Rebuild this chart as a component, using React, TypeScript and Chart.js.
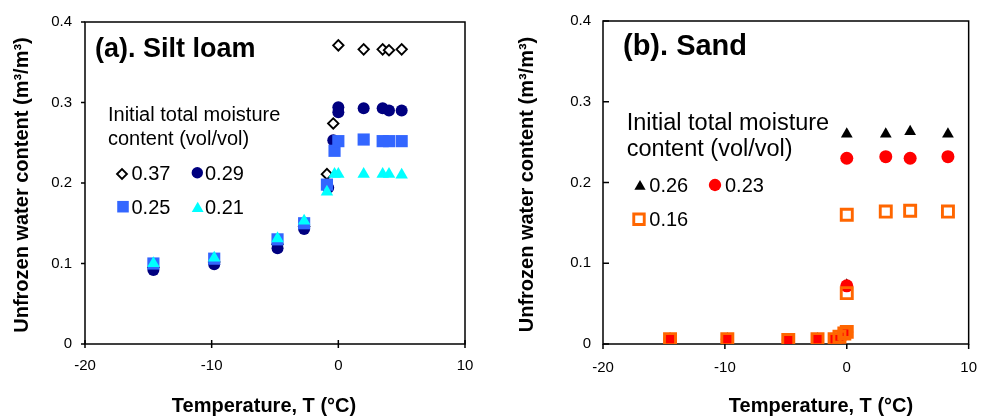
import React, { useEffect, useRef } from "react";
import { Chart, registerables } from "chart.js";
import { drawPoint } from "chart.js/helpers";

Chart.register(...registerables);

const FONT = "'Liberation Sans', Arial, Helvetica, sans-serif";

// ---------- axis ranges ----------
const xMin = -20;
const xMax = 10;
const xStep = 10;
const yMin = 0;
const yMax = 0.4;
const yStep = 0.1;

// ---------- (a) Silt loam ----------
const siltLabels = ["0.37", "0.29", "0.25", "0.21"];
const siltT037 = [-14.6, -9.8, -4.8, -2.7, -0.9, -0.4, 0, 2.0, 3.5, 4.0, 5.0];
const siltW037 = [0.095, 0.102, 0.124, 0.146, 0.211, 0.274, 0.371, 0.366, 0.366, 0.365, 0.366];
const siltT029 = [-14.6, -9.8, -4.8, -2.7, -0.8, -0.4, 0, 0, 2.0, 3.5, 4.0, 5.0];
const siltW029 = [0.092, 0.099, 0.119, 0.143, 0.194, 0.253, 0.294, 0.288, 0.293, 0.293, 0.29, 0.29];
const siltT025 = [-14.6, -9.8, -4.8, -2.7, -0.9, -0.3, 0, 2.0, 3.5, 4.0, 5.0];
const siltW025 = [0.1, 0.106, 0.13, 0.15, 0.198, 0.24, 0.252, 0.254, 0.252, 0.252, 0.252];
const siltT021 = [-14.6, -9.8, -4.8, -2.7, -0.9, -0.3, 0, 2.0, 3.5, 4.0, 5.0];
const siltW021 = [0.1, 0.107, 0.131, 0.153, 0.189, 0.211, 0.211, 0.211, 0.211, 0.211, 0.21];

// ---------- (b) Sand ----------
const sandLabels = ["0.26", "0.23", "0.16"];
const sandT026 = [-14.5, -9.8, -4.8, -2.4, -1.0, -0.2, 0, 0, 3.2, 5.2, 8.3];
const sandW026 = [0.006, 0.006, 0.005, 0.006, 0.006, 0.012, 0.073, 0.26, 0.26, 0.263, 0.26];
const sandT023 = [-14.5, -9.8, -4.8, -2.4, -1.0, -0.5, 0, 0, 0, 3.2, 5.2, 8.3];
const sandW023 = [0.006, 0.006, 0.005, 0.006, 0.006, 0.008, 0.015, 0.072, 0.23, 0.232, 0.23, 0.232];
const sandT016 = [-14.5, -9.8, -4.8, -2.4, -1.0, -0.6, -0.2, 0, 0, 0, 3.2, 5.2, 8.3];
const sandW016 = [0.006, 0.006, 0.005, 0.006, 0.006, 0.009, 0.013, 0.015, 0.063, 0.16, 0.164, 0.165, 0.164];

const xTitle = "Temperature, T (°C)";
const yTitle = "Unfrozen water content (m³/m³)";
const legendHeader = ["Initial total moisture", "content (vol/vol)"];

type MarkStyle = {
  pointStyle: string;
  radius: number;
  fill: string;
  stroke: string;
  borderWidth: number;
  order: number;
};

type LegendItem = { s: number; mx: number; my: number; tx: number; ty: number };

type Panel = {
  title: string;
  titleFont: number;
  titleX: number;
  titleY: number;
  labels: string[];
  xs: number[][];
  ys: number[][];
  styles: MarkStyle[];
  axisLeft: number;
  padRight: number;
  yTickPad: number;
  xTickPad: number;
  tickFont: number;
  yTickIn: number;
  yTickOut: number;
  xTickIn: number;
  xTickOut: number;
  xTitleX: number;
  yTitleX: number;
  headerFont: number;
  headerX: number;
  headerY: number[];
  itemFont: number;
  items: LegendItem[];
};

const siltPanel: Panel = {
  title: "(a). Silt loam",
  titleFont: 27,
  titleX: 95,
  titleY: 57,
  labels: siltLabels,
  xs: [siltT037, siltT029, siltT025, siltT021],
  ys: [siltW037, siltW029, siltW025, siltW021],
  styles: [
    { pointStyle: "rectRot", radius: 5.2, fill: "#ffffff", stroke: "#000000", borderWidth: 1.9, order: 4 },
    { pointStyle: "circle", radius: 6, fill: "#000080", stroke: "#000080", borderWidth: 0, order: 3 },
    { pointStyle: "rect", radius: 8.6, fill: "#3366FF", stroke: "#3366FF", borderWidth: 0, order: 2 },
    { pointStyle: "triangle", radius: 7.2, fill: "#00FFFF", stroke: "#00FFFF", borderWidth: 0, order: 1 },
  ],
  axisLeft: 85,
  padRight: 31,
  yTickPad: 13,
  xTickPad: 13,
  tickFont: 15,
  yTickIn: 0,
  yTickOut: 4,
  xTickIn: 4,
  xTickOut: 4,
  xTitleX: 264,
  yTitleX: 22,
  headerFont: 20,
  headerX: 108,
  headerY: [121, 145],
  itemFont: 20,
  items: [
    { s: 0, mx: 122, my: 174, tx: 131.5, ty: 180 },
    { s: 1, mx: 197.3, my: 172.7, tx: 205, ty: 180 },
    { s: 2, mx: 123, my: 206.7, tx: 131.5, ty: 214 },
    { s: 3, mx: 197.7, my: 208.5, tx: 205, ty: 214 },
  ],
};

const sandPanel: Panel = {
  title: "(b). Sand",
  titleFont: 29,
  titleX: 127,
  titleY: 55,
  labels: sandLabels,
  xs: [sandT026, sandT023, sandT016],
  ys: [sandW026, sandW023, sandW016],
  styles: [
    { pointStyle: "triangle", radius: 6.8, fill: "#000000", stroke: "#000000", borderWidth: 0, order: 3 },
    { pointStyle: "circle", radius: 6.5, fill: "#FF0000", stroke: "#FF0000", borderWidth: 0, order: 2 },
    { pointStyle: "rect", radius: 7.8, fill: "rgba(0,0,0,0)", stroke: "#FF6600", borderWidth: 2.9, order: 1 },
  ],
  axisLeft: 107,
  padRight: 9,
  yTickPad: 12,
  xTickPad: 15,
  tickFont: 15,
  yTickIn: 6,
  yTickOut: 0,
  xTickIn: 0,
  xTickOut: 5,
  xTitleX: 325,
  yTitleX: 31,
  headerFont: 23.5,
  headerX: 130.7,
  headerY: [130, 156],
  itemFont: 20,
  items: [
    { s: 0, mx: 144, my: 186.5, tx: 153.3, ty: 192.3 },
    { s: 1, mx: 219, my: 185, tx: 229, ty: 192.3 },
    { s: 2, mx: 143, my: 219.3, tx: 153.3, ty: 226 },
  ],
};

function makePlugin(p: Panel) {
  return {
    id: "panelDecor",
    beforeDatasetsDraw(chart: any) {
      const { ctx, chartArea: a, scales } = chart;
      ctx.save();
      ctx.strokeStyle = "#000";
      ctx.lineWidth = 1.5;
      ctx.strokeRect(a.left, a.top, a.right - a.left, a.bottom - a.top);
      ctx.beginPath();
      for (const t of scales.y.ticks) {
        const y = scales.y.getPixelForValue(t.value);
        ctx.moveTo(a.left - p.yTickOut, y);
        ctx.lineTo(a.left + p.yTickIn, y);
      }
      for (const t of scales.x.ticks) {
        const x = scales.x.getPixelForValue(t.value);
        ctx.moveTo(x, a.bottom - p.xTickIn);
        ctx.lineTo(x, a.bottom + p.xTickOut);
      }
      ctx.stroke();
      ctx.restore();
    },
    afterDatasetsDraw(chart: any) {
      const { ctx, chartArea: a } = chart;
      ctx.save();
      ctx.fillStyle = "#000";
      ctx.textAlign = "left";
      ctx.textBaseline = "alphabetic";
      ctx.font = `bold ${p.titleFont}px ${FONT}`;
      ctx.fillText(p.title, p.titleX, p.titleY);
      ctx.font = `${p.headerFont}px ${FONT}`;
      legendHeader.forEach((line, i) => ctx.fillText(line, p.headerX, p.headerY[i]));
      for (const it of p.items) {
        const st = p.styles[it.s];
        ctx.save();
        ctx.fillStyle = st.fill;
        ctx.strokeStyle = st.stroke;
        ctx.lineWidth = st.borderWidth;
        drawPoint(ctx, { pointStyle: st.pointStyle as any, radius: st.radius * 0.95, borderWidth: st.borderWidth, rotation: 0 }, it.mx, it.my);
        ctx.restore();
        ctx.fillStyle = "#000";
        ctx.font = `${p.itemFont}px ${FONT}`;
        ctx.fillText(p.labels[it.s], it.tx, it.ty);
      }
      ctx.font = `bold 20px ${FONT}`;
      ctx.textAlign = "center";
      ctx.fillText(xTitle, p.xTitleX, 412);
      ctx.save();
      ctx.translate(p.yTitleX, (a.top + a.bottom) / 2 + 2);
      ctx.rotate(-Math.PI / 2);
      ctx.textBaseline = "middle";
      ctx.fillText(yTitle, 0, 0);
      ctx.restore();
      ctx.restore();
    },
  };
}

function makeConfig(p: Panel): any {
  return {
    type: "scatter",
    data: {
      datasets: p.labels.map((label, i) => ({
        label,
        data: p.xs[i].map((x, j) => ({ x, y: p.ys[i][j] })),
        pointStyle: p.styles[i].pointStyle,
        pointRadius: p.styles[i].radius,
        pointHoverRadius: p.styles[i].radius,
        backgroundColor: p.styles[i].fill,
        borderColor: p.styles[i].stroke,
        borderWidth: p.styles[i].borderWidth,
        order: p.styles[i].order,
        showLine: false,
      })),
    },
    options: {
      animation: false,
      responsive: false,
      maintainAspectRatio: false,
      events: [],
      layout: { padding: { left: 0, right: p.padRight, top: 12, bottom: 0 } },
      plugins: { legend: { display: false }, tooltip: { enabled: false }, title: { display: false } },
      scales: {
        x: {
          type: "linear",
          min: xMin,
          max: xMax,
          ticks: { stepSize: xStep, color: "#000", padding: p.xTickPad, font: { family: FONT, size: p.tickFont } },
          grid: { display: false, drawTicks: false },
          border: { display: false },
          afterFit: (s: any) => {
            s.height = 74;
          },
        },
        y: {
          type: "linear",
          min: yMin,
          max: yMax,
          ticks: {
            stepSize: yStep,
            color: "#000",
            padding: p.yTickPad,
            font: { family: FONT, size: p.tickFont },
            callback: (v: any) => (Number(v) === 0 ? "0" : Number(v).toFixed(1)),
          },
          grid: { display: false, drawTicks: false },
          border: { display: false },
          afterFit: (s: any) => {
            s.width = p.axisLeft;
          },
        },
      },
    },
    plugins: [makePlugin(p)],
  };
}

function PanelChart({ panel, left }: { panel: Panel; left: number }) {
  const ref = useRef<HTMLCanvasElement | null>(null);
  useEffect(() => {
    if (!ref.current) return;
    const chart = new Chart(ref.current, makeConfig(panel));
    return () => chart.destroy();
  }, [panel]);
  return (
    <canvas
      ref={ref}
      width={496}
      height={418}
      style={{ position: "absolute", left, top: 0, width: 496, height: 418 }}
    />
  );
}

export default function App() {
  return (
    <div style={{ position: "absolute", left: 0, top: 0, width: 992, height: 418, background: "#fff" }}>
      <PanelChart panel={siltPanel} left={0} />
      <PanelChart panel={sandPanel} left={496} />
    </div>
  );
}
